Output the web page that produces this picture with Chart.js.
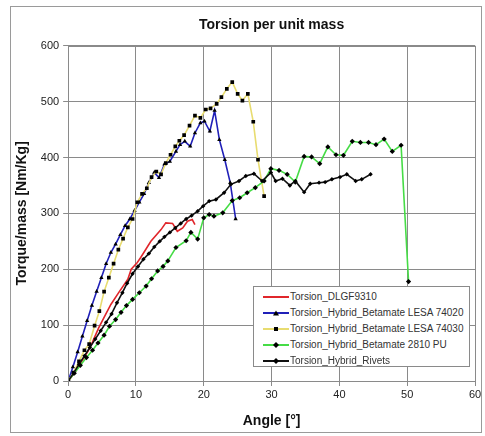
<!DOCTYPE html>
<html>
<head>
<meta charset="utf-8">
<script src="https://cdn.jsdelivr.net/npm/chart.js@4.4.0/dist/chart.umd.min.js"></script>
<style>
  body { margin: 0; background: #fff; font-family: "Liberation Sans", Arial, sans-serif; }
  #wrap { position: relative; width: 485px; height: 436px; }
  #frame { position: absolute; left: 10px; top: 6px; width: 472px; height: 427px; border: 1px solid #9a9a9a; box-sizing: border-box; pointer-events: none; }
  #legend { position: absolute; left: 253px; top: 286px; width: 217px; height: 81px; border: 1px solid #8a8a8a; background: #fff; box-sizing: border-box; padding-top: 2px; }
  .item { height: 16px; line-height: 16px; font-size: 10px; color: #333; white-space: nowrap; display: flex; align-items: center; }
  .item svg { margin-left: 9px; margin-right: 1px; }
</style>
</head>
<body>
<div id="wrap">
  <canvas id="grafico" width="485" height="436"></canvas>
  <div id="frame"></div>
  <div id="legend"></div>
</div>
<script>
// datos
const redAngle = [0,1.0,2.0,3.0,3.6,4.5,5.3,6.3,7.5,8.8,9.3,10.2,10.7,12.2,13.7,14.4,15.4,16.1,16.9,17.6,18.3,18.7];
const redTorque = [0,15,35,55,70,95,114,137,159,182,200,212,221,250,271,283,282,268,274,286,289,280];

const blueAngle = [0,0.7,1.4,2.1,2.8,3.5,4.2,4.9,5.6,6.3,7.0,7.7,8.4,9.1,9.8,10.5,11.2,11.9,12.7,13.4,14.2,15.0,15.9,16.5,17.2,18.0,18.7,19.5,20.1,20.9,21.6,22.3,23.1,23.9,24.7];
const blueTorque = [0,25,52,80,108,135,160,185,210,230,245,262,278,290,305,320,335,355,373,364,388,393,411,423,429,420,444,462,465,447,484,432,396,355,290];

const yellowAngle = [0,0.8,1.6,2.4,3.1,3.9,4.6,5.3,6.0,6.7,7.4,8.1,8.8,9.5,10.2,10.9,11.6,12.3,13.0,13.7,14.4,15.1,15.8,16.4,17.1,17.9,18.7,19.5,20.3,21.0,21.9,22.6,23.4,24.2,25.0,25.7,26.5,27.3,28.0,28.9];
const yellowTorque = [0,15,35,55,66,99,125,160,185,210,235,255,275,290,320,335,345,365,375,370,390,405,420,430,440,457,475,471,486,488,496,508,523,535,514,502,514,464,396,331];

const greenAngle = [0,0.9,1.8,2.7,3.6,4.4,5.3,6.1,7.0,7.8,8.6,9.5,10.5,11.5,12.3,13.2,14.0,14.7,15.9,17.4,18.1,19.1,20.0,20.8,21.5,22.8,24.2,25.3,26.4,27.6,28.9,29.9,31.1,32.3,33.5,34.8,35.9,37.1,38.3,39.5,40.6,41.9,43.1,44.3,45.4,46.6,47.8,49.1,50.2];
const greenTorque = [0,14,28,42,55,68,82,98,110,123,135,146,158,170,183,197,205,215,239,251,266,254,292,298,295,301,323,328,337,346,358,380,377,370,356,402,401,389,419,405,404,429,427,427,423,433,411,422,178];

const blackAngle = [0,0.8,1.6,2.4,3.2,4.0,4.8,5.6,6.4,7.2,8.0,8.7,9.5,10.3,11.1,11.9,12.7,13.5,14.2,15.0,15.8,16.6,17.4,18.2,19.1,19.9,20.8,21.8,23.0,24.0,25.2,26.2,27.4,28.6,29.9,30.6,31.6,32.7,33.5,34.8,35.7,37.0,37.9,38.9,40.1,41.1,42.4,43.3,44.6];
const blackTorque = [0,14,30,45,60,75,90,105,120,140,158,175,192,205,218,228,240,250,258,266,274,282,290,296,304,313,322,325,337,352,358,367,371,358,373,358,362,350,358,338,353,355,356,361,365,370,358,361,370];

const xTicks = [0,10,20,30,40,50,60];
const yTicks = [0,100,200,300,400,500,600];

function puntos(xs, ys){
    return xs.map((x, i) => ({x: x, y: ys[i]}));
}

const series = [
    {label: 'Torsion_DLGF9310', data: puntos(redAngle, redTorque), color: '#e0262b', marker: false, order: 5},
    {label: 'Torsion_Hybrid_Betamate LESA 74020', data: puntos(blueAngle, blueTorque), color: '#2020b8', marker: 'triangle', radius: 2.5, order: 4},
    {label: 'Torsion_Hybrid_Betamate LESA 74030', data: puntos(yellowAngle, yellowTorque), color: '#e8dc70', marker: 'rect', radius: 2.6, order: 3},
    {label: 'Torsion_Hybrid_Betamate 2810 PU', data: puntos(greenAngle, greenTorque), color: '#46dc46', marker: 'rectRot', radius: 2.6, order: 2},
    {label: 'Torsion_Hybrid_Rivets', data: puntos(blackAngle, blackTorque), color: '#111111', marker: 'rectRot', radius: 2.2, order: 1}
];

const datasets = series.map(s => ({
    label: s.label,
    data: s.data,
    showLine: true,
    borderColor: s.color,
    borderWidth: 1.6,
    pointStyle: s.marker || 'circle',
    pointRadius: s.marker ? s.radius : 0,
    pointBackgroundColor: '#000',
    pointBorderColor: '#000',
    pointBorderWidth: 0,
    order: s.order,
    tension: 0
}));

const gridColor = '#8a8a8a';
const ctx_g = document.getElementById('grafico');
const grafico = new Chart(ctx_g, {
    type: 'scatter',
    data: {datasets: datasets},
    options: {
        responsive: false,
        animation: false,
        layout: {padding: {left: 10, right: 10, top: 17, bottom: 6}},
        plugins: {
            legend: {display: false},
            tooltip: {enabled: false},
            title: {
                display: true,
                text: 'Torsion per unit mass',
                color: '#111',
                fullSize: false,
                font: {family: '"Liberation Sans", Arial', size: 14, weight: 'bold'},
                padding: {top: 0, bottom: 12}
            }
        },
        scales: {
            x: {
                type: 'linear', min: 0, max: 60,
                afterBuildTicks: (axis) => { axis.ticks = xTicks.map(v => ({value: v})); },
                grid: {color: gridColor, lineWidth: 1, tickLength: 5, drawTicks: true},
                border: {color: gridColor, width: 1},
                ticks: {color: '#222', padding: 2, font: {family: '"Liberation Sans", Arial', size: 11}},
                title: {display: true, text: 'Angle [°]', color: '#111',
                    font: {family: '"Liberation Sans", Arial', size: 14, weight: 'bold'},
                    padding: {top: 10, bottom: 0}}
            },
            y: {
                type: 'linear', min: 0, max: 600,
                afterBuildTicks: (axis) => { axis.ticks = yTicks.map(v => ({value: v})); },
                grid: {color: gridColor, lineWidth: 1, tickLength: 5, drawTicks: true},
                border: {color: gridColor, width: 1},
                ticks: {color: '#222', padding: 4, font: {family: '"Liberation Sans", Arial', size: 11}},
                title: {display: true, text: 'Torque/mass [Nm/Kg]', color: '#111',
                    font: {family: '"Liberation Sans", Arial', size: 14, weight: 'bold'},
                    padding: {top: 4, bottom: 6}}
            }
        }
    },
    plugins: [{
        id: 'bordeDerecho',
        afterDraw(chart){
            const a = chart.chartArea;
            const c = chart.ctx;
            c.save();
            c.strokeStyle = gridColor;
            c.lineWidth = 1;
            c.strokeRect(Math.round(a.left) + 0.5, Math.round(a.top) + 0.5, Math.round(a.right - a.left), Math.round(a.bottom - a.top));
            c.restore();
        }
    }]
});

// leyenda en html
function icono(s){
    let m = '';
    if (s.marker === 'triangle') m = '<polygon points="13,2.5 16,7.5 10,7.5" fill="#000"/>';
    else if (s.marker === 'rect') m = '<rect x="11" y="3" width="4" height="4" fill="#000"/>';
    else if (s.marker === 'rectRot') m = '<polygon points="13,2 16,5 13,8 10,5" fill="#000"/>';
    return '<svg width="26" height="10"><line x1="0" y1="5" x2="26" y2="5" stroke="' + s.color + '" stroke-width="2"/>' + m + '</svg>';
}
const leyenda = document.getElementById('legend');
series.forEach(s => {
    const d = document.createElement('div');
    d.className = 'item';
    d.innerHTML = icono(s) + '<span>' + s.label + '</span>';
    leyenda.appendChild(d);
});
</script>
</body>
</html>
